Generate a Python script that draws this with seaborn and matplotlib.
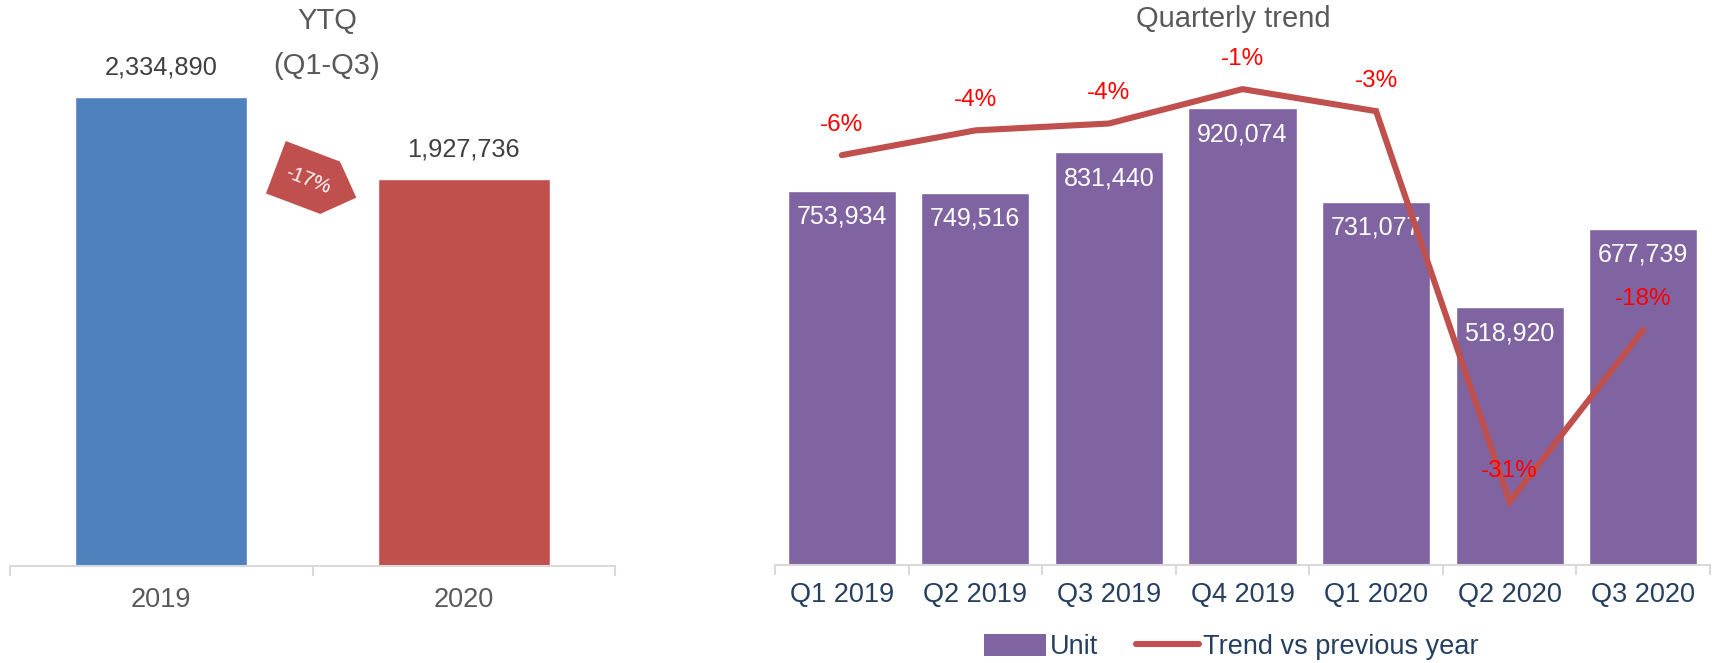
import numpy as np
import pandas as pd
import matplotlib
matplotlib.use("Agg")
import matplotlib.pyplot as plt
import seaborn as sns
from matplotlib.patches import Polygon, Patch
from matplotlib.lines import Line2D
from matplotlib.transforms import Affine2D

# Dados
anos = ["2019", "2020"]
ytq = [2334890, 1927736]
variacao_ytq = "-17%"

trimestres = ["Q1 2019", "Q2 2019", "Q3 2019", "Q4 2019", "Q1 2020", "Q2 2020", "Q3 2020"]
unidades = [753934, 749516, 831440, 920074, 731077, 518920, 677739]
tendencia = [-5.8, -4.0, -3.5, -1.0, -2.6, -31.0, -18.5]
tendencia_txt = ["-6%", "-4%", "-4%", "-1%", "-3%", "-31%", "-18%"]

# Cores
azul = "#4F81BD"
vermelho = "#C0504D"
roxo = "#8064A2"
cinza = "#595959"
azul_escuro = "#243F60"
eixo_cor = "#D9D9D9"

sns.set_theme(style="white")
plt.rcParams["font.family"] = ["Liberation Sans", "DejaVu Sans"]

W, H = 1712, 663
fig = plt.figure(figsize=(W / 100, H / 100), dpi=100)

def caixa(x0, y0, x1, y1):
    # converte pixels (origem no topo) em fracao da figura
    return [x0 / W, (H - y1) / H, (x1 - x0) / W, (y1 - y0) / H]

ax1 = fig.add_axes(caixa(10, 10, 615, 566))
ax2 = fig.add_axes(caixa(775, 68.5, 1710, 565))

# ---- Grafico da esquerda (YTQ) ----
df_ytq = pd.DataFrame({"ano": anos, "valor": ytq})
sns.barplot(data=df_ytq, x="ano", y="valor", hue="ano", palette=[azul, vermelho],
            width=0.57, legend=False, saturation=1, ax=ax1)
ax1.set_ylim(0, 2768000)
ax1.set_xlim(-0.5, 1.5)
for i, v in enumerate(ytq):
    ax1.annotate(f"{v:,}", (i, v), xytext=(0, 21), textcoords="offset points",
                 ha="center", va="center", fontsize=18.3, color="#404040")

# ---- Grafico da direita (trimestral) ----
df_q = pd.DataFrame({"trimestre": trimestres, "unidades": unidades})
sns.barplot(data=df_q, x="trimestre", y="unidades", color=roxo, width=0.81,
            saturation=1, ax=ax2)
ax2.set_ylim(0, 1000000)
ax2.set_xlim(-0.5, len(trimestres) - 0.5)
for i, v in enumerate(unidades):
    ax2.annotate(f"{v:,}", (i, v), xytext=(0, -18.7), textcoords="offset points",
                 ha="center", va="center", fontsize=18, color="white")

ax3 = ax2.twinx()
df_t = pd.DataFrame({"pos": np.arange(len(trimestres)), "tend": tendencia})
sns.lineplot(data=df_t, x="pos", y="tend", color=vermelho, linewidth=4.4,
             solid_capstyle="round", solid_joinstyle="miter", ax=ax3)
ax3.set_ylim(-35.6, 0.5)
for i, (v, t) in enumerate(zip(tendencia, tendencia_txt)):
    ax3.annotate(t, (i, v), xytext=(0, 22), textcoords="offset points",
                 ha="center", va="center", fontsize=17.5, color="#FF0000")
ax3.set_axis_off()

# ---- Eixos no estilo Excel ----
for ax, n, cor_txt in [(ax1, len(anos), cinza), (ax2, len(trimestres), azul_escuro)]:
    ax.set_xlabel("")
    ax.set_ylabel("")
    ax.set_yticks([])
    for s in ["top", "left", "right"]:
        ax.spines[s].set_visible(False)
    ax.spines["bottom"].set_color(eixo_cor)
    ax.spines["bottom"].set_linewidth(1.5)
    ax.set_xticks(np.arange(n))
    ax.set_xticks(np.arange(n + 1) - 0.5, minor=True)
    ax.tick_params(axis="x", which="major", length=0, labelsize=19.5, labelcolor=cor_txt)
    ax.tick_params(axis="x", which="minor", bottom=True, length=7, width=1.5,
                   color=eixo_cor, direction="out")
    ax.set_facecolor("none")
ax1.tick_params(axis="x", which="major", pad=15)
ax2.tick_params(axis="x", which="major", pad=12)
ax3.set_xlim(ax2.get_xlim())

# Titulos
fig.text(327 / W, 1 - 21 / H, "YTQ", ha="center", va="center", fontsize=21, color=cinza)
fig.text(327 / W, 1 - 66 / H, "(Q1-Q3)", ha="center", va="center", fontsize=21, color=cinza)
fig.text(1233 / W, 1 - 19 / H, "Quarterly trend", ha="center", va="center",
         fontsize=21, color=cinza)

# Seta pentagonal com a variacao
corpo, larg, ponta = 58, 56, 28
forma = np.array([[-corpo / 2, larg / 2], [corpo / 2, larg / 2], [corpo / 2 + ponta, 0],
                  [corpo / 2, -larg / 2], [-corpo / 2, -larg / 2]])
trans = Affine2D().rotate_deg(-20.7).translate(303, H - 177.5).scale(1 / 100) + fig.dpi_scale_trans
fig.patches.append(Polygon(forma, closed=True, facecolor=vermelho, edgecolor="none",
                           transform=trans, figure=fig))
fig.text(308 / W, 1 - 180 / H, variacao_ytq, ha="center", va="center", rotation=-21,
         fontsize=14.5, color="white", rotation_mode="anchor")

# Legenda
handles = [Patch(facecolor=roxo, edgecolor="none"),
           Line2D([0], [0], color=vermelho, linewidth=4.4, solid_capstyle="round")]
fig.legend(handles, ["Unit", "Trend vs previous year"], loc="center",
           bbox_to_anchor=(1231 / W, 1 - 647 / H), ncol=2, frameon=False,
           fontsize=19.5, labelcolor=azul_escuro, handlelength=2.3, handletextpad=0.15,
           columnspacing=1.4, handleheight=0.85)

fig.savefig("out.png", dpi=100)
